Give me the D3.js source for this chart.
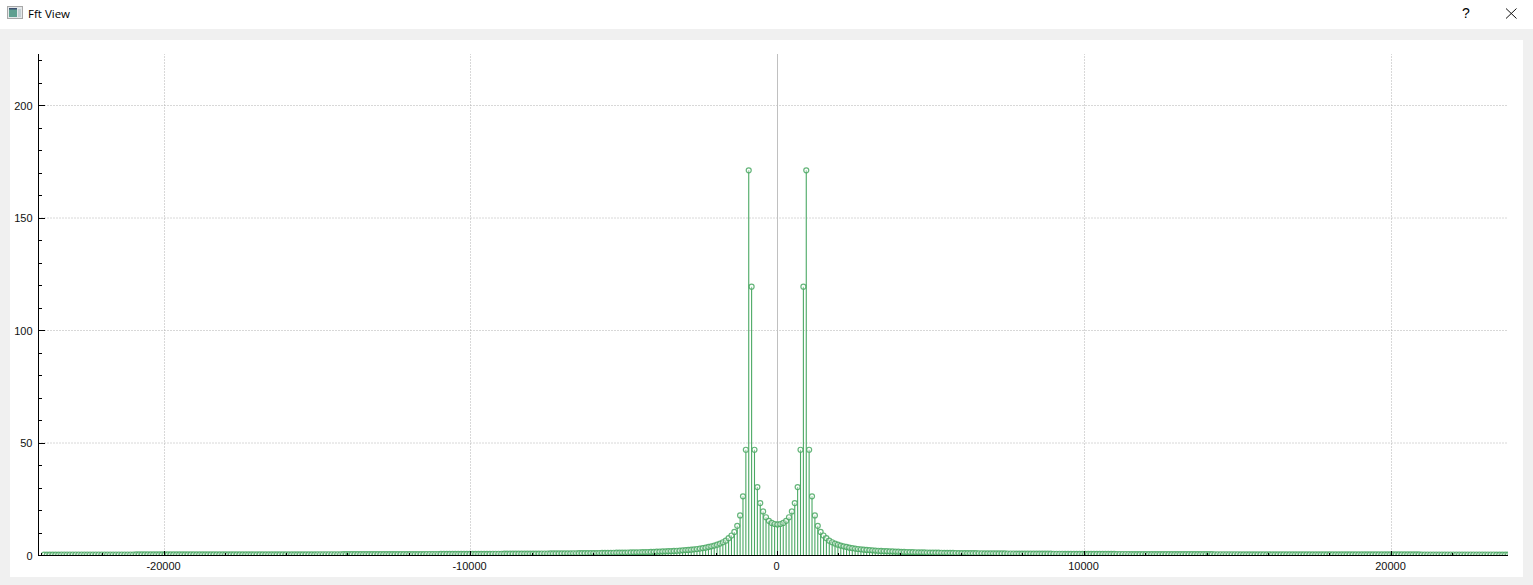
<!DOCTYPE html>
<html><head><meta charset="utf-8">
<script src="https://cdnjs.cloudflare.com/ajax/libs/d3/7.8.5/d3.min.js"></script>
<style>
html,body{margin:0;padding:0;background:#fff;overflow:hidden}
svg{display:block}
.tick text{font-family:"Liberation Sans",Arial,sans-serif;font-size:11px;fill:#111}
</style></head><body>
<svg id="c" width="1533" height="585"></svg>
<script>
const windowTitle = "Fft View";
const binWidth = 93.75;
// magnitude per FFT bin, from bin 0 upward; the spectrum is mirrored around 0
const magnitudes = [
13.8,14,14.5,15.4,17,19.6,23.3,30.4,47,119.5,171.2,47,26.3,17.8,13.2,10.5,8.9,7.7,6.6,5.9,
5.3,4.8,4.4,4.1,3.8,3.5,3.3,3.1,2.9,2.75,2.6,2.5,2.4,2.3,2.2,2.12,2.05,1.98,1.92,1.86,
1.8,1.75,1.7,1.65,1.6,1.56,1.52,1.48,1.45,1.42,1.39,1.36,1.33,1.3,1.28,1.26,1.24,1.22,1.2,1.18,
1.16,1.14,1.12,1.1,1.08,1.06,1.05,1.04,1.03,1.02,1,.99,.98,.97,.96,.95,.94,.93,.92,.91,
.9,.89,.88,.87,.87,.86,.85,.84,.84,.83,.82,.82,.81,.8,.8,.79,.78,.78,.77,.77,
.76,.75,.75,.74,.74,.73,.73,.72,.72,.71,.71,.7,.7,.69,.69,.68,.68,.68,.67,.67,
.66,.66,.66,.65,.65,.64,.64,.64,.63,.63,.63,.62,.62,.62,.61,.61,.61,.6,.6,.6,
.6,.59,.59,.59,.58,.58,.58,.58,.57,.57,.57,.57,.56,.56,.56,.56,.55,.55,.55,.55,
.55,.54,.54,.54,.54,.54,.53,.53,.53,.53,.53,.52,.52,.52,.52,.52,.52,.51,.51,.51,
.51,.51,.51,.5,.5,.5,.5,.5,.5,.5,.49,.49,.49,.49,.49,.49,.49,.48,.48,.48,
.48,.48,.48,.48,.48,.47,.47,.47,.47,.47,.47,.47,.47,.47,.46,.46,.46,.46,.46,.46,
.46,.46,.46,.46,.45,.45,.45,.45,.45,.45,.45,.45,.45,.45,.45,.44,.44,.44,.44,.44,
.44,.44,.44,.44,.44,.44,.44,.44,.44,.44,.43,.43,.43,.43,.43,.43];
const xMajorTicks = [-20000,-10000,0,10000,20000];
const xMinorTicks = [-24000,-22000,-18000,-16000,-14000,-12000,-8000,-6000,-4000,-2000,2000,4000,6000,8000,12000,14000,16000,18000,22000];
const yMajorTicks = [0,50,100,150,200];
const yMinorTicks = [10,20,30,40,60,70,80,90,110,120,130,140,160,170,180,190,210,220];
const xDomain = [-24087,23810];
const yDomain = [0,222.9];

const spectrum = [];
magnitudes.forEach((m,i)=>{ if(i>0) spectrum.push({f:-i*binWidth,m}); spectrum.push({f:i*binWidth,m}); });
spectrum.sort((a,b)=>a.f-b.f);

const svg = d3.select("#c");
const x = d3.scaleLinear().domain(xDomain).range([38.5,1508]);
const y = d3.scaleLinear().domain(yDomain).range([555.5,54]);
const xPix = d=>Math.round(x(d)-.3)+.5;

// window chrome
svg.append("rect").attr("width",1533).attr("height",585).attr("fill","#f0f0f0");
svg.append("rect").attr("width",1533).attr("height",29).attr("fill","#fff");
svg.append("rect").attr("x",10).attr("y",40).attr("width",1513).attr("height",537).attr("fill","#fff");
const icon = svg.append("g");
icon.append("rect").attr("x",7.5).attr("y",6.5).attr("width",15).attr("height",12).attr("fill","#e4e8ea").attr("stroke","#a8a8a8");
icon.append("rect").attr("x",9).attr("y",9).attr("width",8).attr("height",8).attr("fill","#5f9f90");
icon.append("rect").attr("x",9).attr("y",8).attr("width",8).attr("height",1.5).attr("fill","#3d4f70");
icon.append("rect").attr("x",18).attr("y",9).attr("width",3).attr("height",8).attr("fill","#c5d0d4");
svg.append("text").attr("x",28).attr("y",18).attr("font-family","'Open Sans','Noto Sans',sans-serif").attr("font-size",11.5).attr("fill","#000").text(windowTitle);
svg.append("text").attr("x",1466).attr("y",18).attr("text-anchor","middle").attr("font-family","'Liberation Sans',sans-serif").attr("font-size",14).attr("fill","#000").text("?");
svg.append("path").attr("d","M1506 8.5L1516.5 18.5M1516.5 8.5L1506 18.5").attr("stroke","#111").attr("fill","none");

// grid
const grid = svg.append("g").attr("stroke","#b0b0b0").attr("stroke-dasharray","1 2").attr("fill","none");
grid.selectAll(".h").data(yMajorTicks.filter(d=>d>0)).join("line")
  .attr("x1",x.range()[0]).attr("x2",x.range()[1]).attr("y1",d=>y(d)).attr("y2",d=>y(d));
grid.selectAll(".v").data(xMajorTicks.filter(d=>d!==0)).join("line")
  .attr("y1",y.range()[0]).attr("y2",y.range()[1]).attr("x1",xPix).attr("x2",xPix);
// zero marker line
svg.append("line").attr("x1",xPix(0)).attr("x2",xPix(0)).attr("y1",y.range()[0]).attr("y2",y.range()[1]).attr("stroke","#c0c0c0");

// stems and markers
svg.append("clipPath").attr("id","plot").append("rect").attr("x",39).attr("y",54).attr("width",1469).attr("height",501);
const plot = svg.append("g").attr("clip-path","url(#plot)");
const green = "#4aa863";
plot.selectAll("line.s").data(spectrum).join("line").attr("class","s")
  .attr("x1",d=>x(d.f)).attr("x2",d=>x(d.f)).attr("y1",y(0)).attr("y2",d=>y(d.m))
  .attr("stroke",green).attr("stroke-width",1.1);
plot.selectAll("circle").data(spectrum).join("circle")
  .attr("cx",d=>x(d.f)).attr("cy",d=>y(d.m)).attr("r",2.5)
  .attr("fill","rgba(255,255,255,.4)").attr("stroke",green).attr("stroke-opacity",.85).attr("stroke-width",1.2);

// axes
const fmt = d=>String(d);
function style(g){ g.selectAll("line,path").attr("stroke","#000").attr("shape-rendering","crispEdges"); }
const bottomY = 555.5, leftX = 38.5;
svg.append("g").attr("transform",`translate(0,${bottomY})`)
  .call(d3.axisBottom(x).offset(0).tickValues(xMinorTicks).tickSize(-2.5).tickSizeOuter(0).tickFormat(""))
  .call(style);
const xa = svg.append("g").attr("transform",`translate(0,${bottomY})`)
  .call(d3.axisBottom(x).offset(0).tickValues(xMajorTicks).tickSize(-5).tickSizeOuter(0).tickPadding(7).tickFormat(fmt))
  .call(style);
xa.selectAll(".tick").attr("transform",d=>`translate(${xPix(d)},0)`);
xa.selectAll(".tick text").attr("x",-1);
svg.append("g").attr("transform",`translate(${leftX},0)`)
  .call(d3.axisRight(y).offset(0).tickValues(yMinorTicks).tickSize(3).tickSizeOuter(0).tickFormat(""))
  .call(style);
const ya = svg.append("g").attr("transform",`translate(${leftX},0)`)
  .call(d3.axisRight(y).offset(0).tickValues(yMajorTicks).tickSize(6).tickSizeOuter(0).tickFormat(fmt))
  .call(style);
ya.selectAll("text").attr("x",-6).attr("y",.7).attr("text-anchor","end");
ya.selectAll(".tick line").filter(d=>d===0).attr("x2",0);
</script>
</body></html>
